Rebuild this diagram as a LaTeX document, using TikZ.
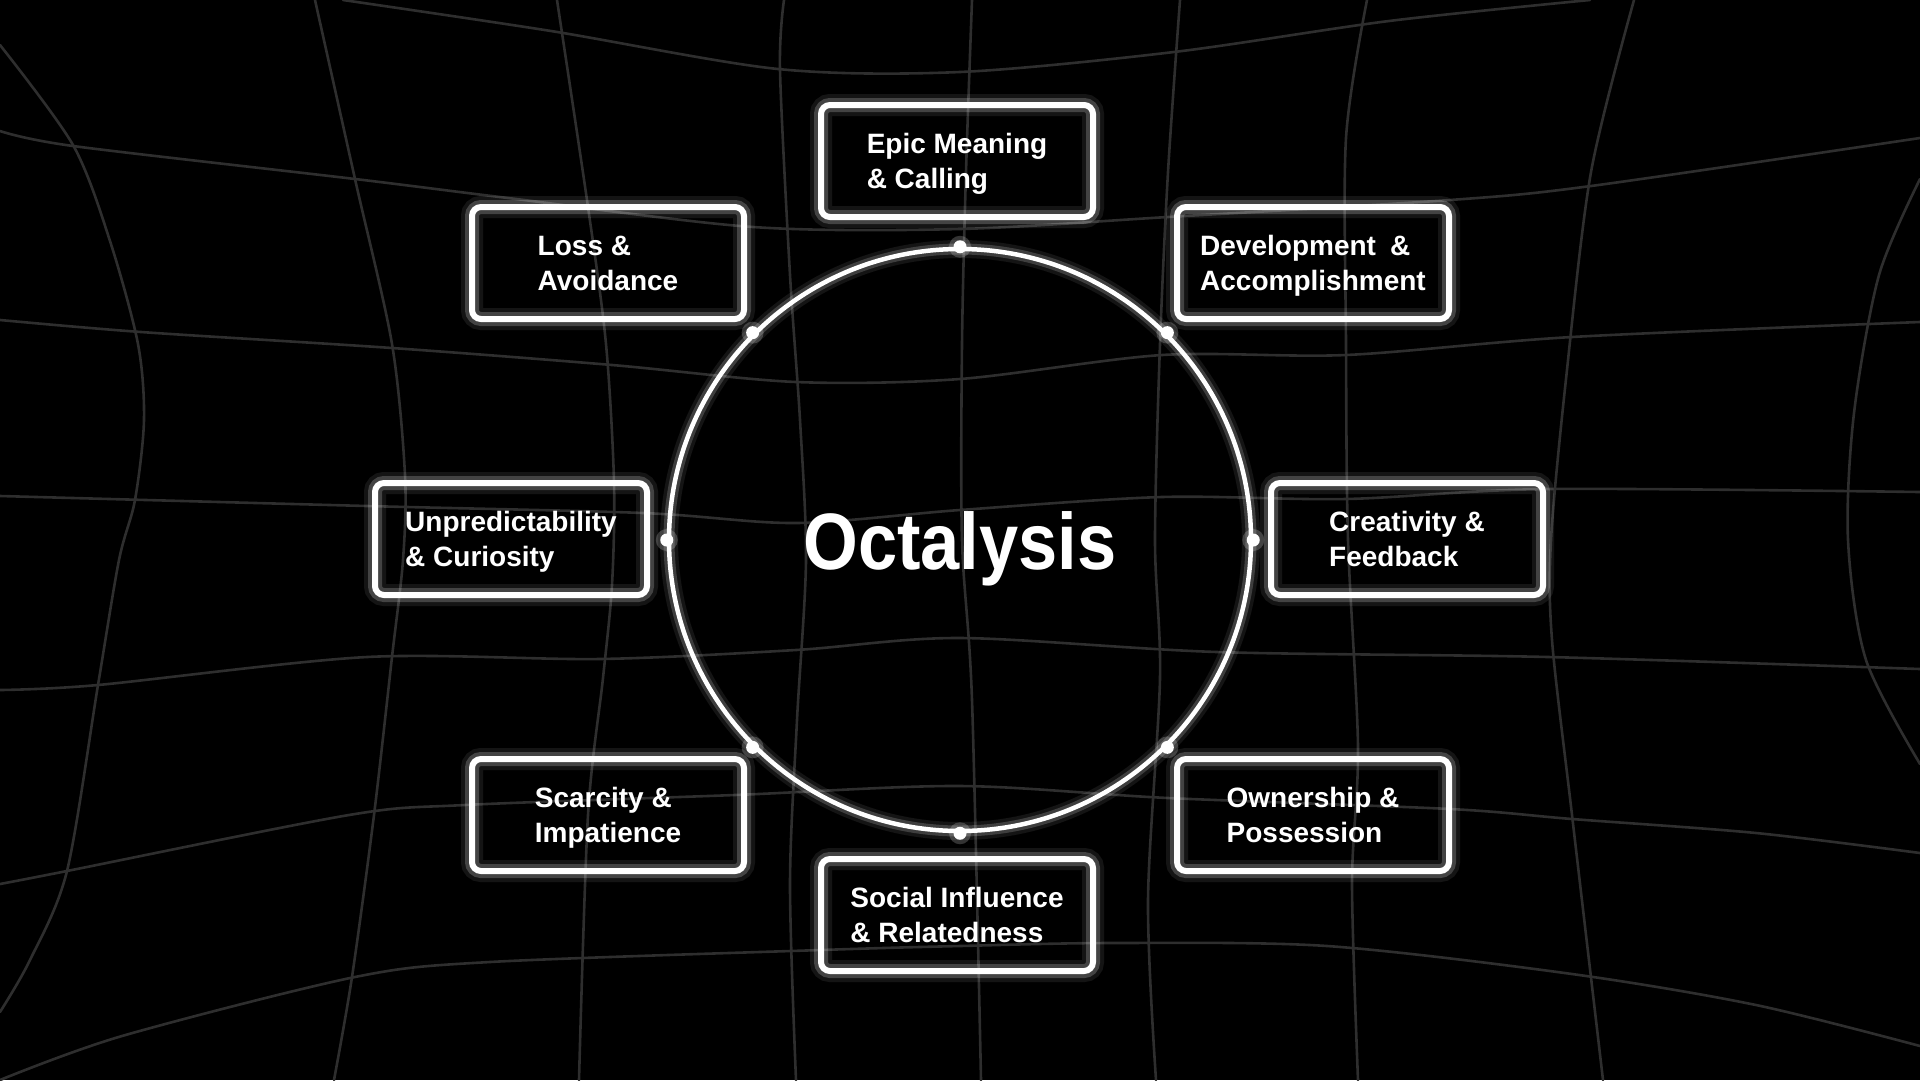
\documentclass[tikz,border=0pt]{standalone}
\usepackage{fontspec}
\setmainfont{Liberation Sans}
\usepackage{graphicx}
\definecolor{gridgray}{RGB}{46,46,46}
\tikzset{
  gridline/.style={draw=gridgray, line width=2.6pt, line cap=round},
  cardbox/.style={draw=white, line width=6pt, rounded corners=9pt,
    minimum width=272pt, minimum height=112pt, inner sep=0pt,
    text depth=0pt,
    align=left, text=white, font=\bfseries\fontsize{28}{35}\selectfont,
    preaction={draw=white, line width=22pt, draw opacity=0.08},
    preaction={draw=white, line width=14pt, draw opacity=0.2}},
  ringstyle/.style={draw=white, line width=4.5pt, circle, minimum size=582pt, inner sep=0pt,
    preaction={draw=white, line width=18pt, draw opacity=0.08},
    preaction={draw=white, line width=11pt, draw opacity=0.18}},
  titlestyle/.style={text=white, inner sep=0pt, font=\bfseries\fontsize{80}{90}\selectfont},
  dotstyle/.style={fill=white}
}
\begin{document}
\begin{tikzpicture}[x=1pt,y=-1pt]
\fill[black] (0,0) rectangle (1920,1080);
\useasboundingbox (0,0) rectangle (1920,1080);
% distorted grid
\draw[gridline] plot[smooth] coordinates {(0,45) (73,145) (110,241) (138,344) (144,420) (135,500) (119,560) (98,685) (67,871) (30,960) (0,1012)};
\draw[gridline] plot[smooth] coordinates {(315,0) (355,179) (392,344) (405,475) (403,560) (392,657) (374,815) (352,977) (334,1080)};
\draw[gridline] plot[smooth] coordinates {(557,0) (588,207) (606,344) (614,482) (612,585) (603,678) (588,815) (579,1080)};
\draw[gridline] plot[smooth] coordinates {(784,0) (780,70) (790,275) (800,420) (806,560) (797,720) (790,884) (796,1080)};
\draw[gridline] plot[smooth] coordinates {(972,0) (966,172) (962,344) (962,540) (972,700) (981,1080)};
\draw[gridline] plot[smooth] coordinates {(1180,0) (1168,172) (1160,344) (1155,540) (1160,678) (1148,900) (1156,1080)};
\draw[gridline] plot[smooth] coordinates {(1367,0) (1346,138) (1346,344) (1348,540) (1358,747) (1352,884) (1358,1080)};
\draw[gridline] plot[smooth] coordinates {(1634,0) (1591,172) (1566,379) (1551,540) (1552,640) (1572,815) (1603,1080)};
\draw[gridline] plot[smooth] coordinates {(1920,179) (1879,275) (1854,413) (1848,540) (1866,660) (1920,764)};
\draw[gridline] plot[smooth] coordinates {(343,0) (551,31) (778,69) (960,72) (1174,52) (1389,21) (1590,0)};
\draw[gridline] plot[smooth] coordinates {(0,131) (73,146) (355,179) (508,198) (753,227) (960,229) (1168,217) (1450,200) (1591,186) (1920,138)};
\draw[gridline] plot[smooth] coordinates {(0,320) (141,332) (392,348) (612,365) (796,382) (960,379) (1162,355) (1346,355) (1572,337) (1920,322)};
\draw[gridline] plot[smooth] coordinates {(0,496) (367,506) (643,513) (796,523) (960,510) (1162,497) (1346,499) (1548,489) (1920,492)};
\draw[gridline] plot[smooth] coordinates {(0,690) (98,685) (367,657) (600,659) (796,650) (960,638) (1217,652) (1548,657) (1920,669)};
\draw[gridline] plot[smooth] coordinates {(0,884) (67,871) (349,815) (465,805) (735,795) (960,786) (1168,798) (1450,809) (1572,819) (1756,833) (1920,853)};
\draw[gridline] plot[smooth] coordinates {(0,1080) (122,1036) (355,977) (490,962) (821,950) (960,946) (1113,943) (1327,946) (1572,974) (1756,1005) (1920,1046)};
% ring
\node[ringstyle] (ring) at (960,540) {};
\foreach \a in {north,north east,east,south east,south,south west,west,north west}{
  \fill[white, opacity=0.2] (ring.\a) circle[radius=11pt];
  \fill[dotstyle] (ring.\a) circle[radius=6.5pt];
}
\node[titlestyle, anchor=base] (title) at (960,569) {\scalebox{0.88}[1]{Octalysis}};
% cards
\node[cardbox] (epic) at (957,161) {Epic Meaning\\\& Calling};
\node[cardbox] (loss) at (608,263) {Loss \&\\Avoidance};
\node[cardbox] (dev) at (1313,263) {Development\enspace\&\\Accomplishment};
\node[cardbox] (unpred) at (511,539) {Unpredictability\\\& Curiosity};
\node[cardbox] (creat) at (1407,539) {Creativity \&\\Feedback};
\node[cardbox] (scarc) at (608,815) {Scarcity \&\\Impatience};
\node[cardbox] (own) at (1313,815) {Ownership \&\\Possession};
\node[cardbox] (social) at (957,915) {Social Influence\\\& Relatedness};
\end{tikzpicture}
\end{document}
